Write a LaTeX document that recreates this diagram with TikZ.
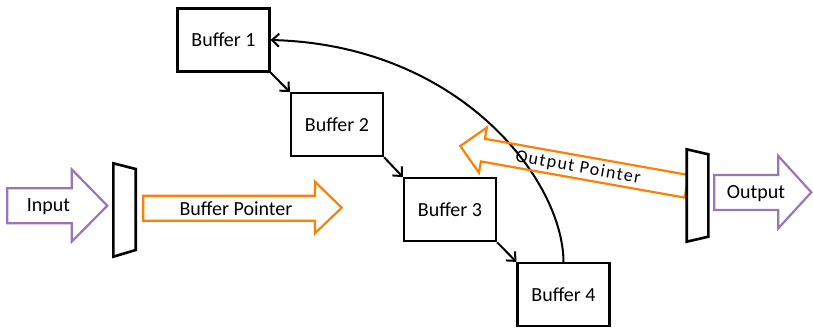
\documentclass[tikz,border=0pt]{standalone}
\usepackage{fontspec}
\setmainfont{Carlito}
\usetikzlibrary{arrows.meta}
\definecolor{orng}{RGB}{255,128,0}
\definecolor{purp}{RGB}{150,120,185}
\begin{document}
\begin{tikzpicture}[x=1pt,y=-1pt,
  font=\fontsize{20}{24}\selectfont,
  buf/.style={draw, line width=2.2pt, minimum width=92pt, minimum height=63pt, inner sep=0pt},
  link/.style={line width=2pt, -{Straight Barb[length=7pt,width=13pt,line width=2pt]}},
  fatarrow/.style={line width=2.2pt, line join=miter, fill=white},
  mux/.style={draw, line width=2.6pt, line join=miter, fill=white},
  lbl/.style={inner sep=0pt, text=black}]
\useasboundingbox (0,0) rectangle (813,327);

% buffers
\node[buf] (b1) at (223.5,40) {Buffer 1};
\node[buf] (b2) at (337,124.7) {Buffer 2};
\node[buf] (b3) at (450,209.7) {Buffer 3};
\node[buf] (b4) at (563.5,294.5) {Buffer 4};

% links
\draw[link] (b1.south east) -- (b2.north west);
\draw[link] (b2.south east) -- (b3.north west);
\draw[link] (b3.south east) -- (b4.north west);
\draw[link] (b4.north) .. controls (563,180) and (460,45) .. (b1.east);

% input arrow
\draw[fatarrow, draw=purp] (7.3,188.3) -- (71.7,188.3) -- (71.7,169.3) -- (107.3,205.7) -- (71.7,241.7) -- (71.7,223.3) -- (7.3,223.3) -- cycle;
\node[lbl] (inp) at (48.5,207) {Input};

% input mux
\draw[mux] (113.3,163.3) -- (135.7,169) -- (135.7,250) -- (113.3,256.7) -- cycle;

% buffer pointer arrow
\draw[fatarrow, draw=orng] (143.3,195.7) -- (315,195.7) -- (315,181.7) -- (341.7,207.7) -- (315,233.3) -- (315,220.7) -- (143.3,220.7) -- cycle;
\node[lbl] (bp) at (236,208.5) {Buffer Pointer};

% output pointer arrow
\draw[fatarrow, draw=orng, fill=none] (688.7,175.0) -- (484.9,138.8) -- (486.9,127.5) -- (460.3,146.0) -- (478.9,172.7) -- (480.9,161.4) -- (684.7,197.6) -- cycle;
\node[lbl, rotate=-10.1] (op) at (578,167.5) {\addfontfeatures{LetterSpace=8}\fontsize{18}{22}\selectfont Output Pointer};

% output mux
\draw[mux] (686.7,149.3) -- (708.3,154.3) -- (708.3,236.7) -- (686.7,241.7) -- cycle;

% output arrow
\draw[fatarrow, draw=purp] (714.3,175) -- (778.3,175) -- (778.3,156) -- (811.3,192.3) -- (778.3,228.3) -- (778.3,210) -- (714.3,210) -- cycle;
\node[lbl] (out) at (756,194) {Output};
\end{tikzpicture}
\end{document}
